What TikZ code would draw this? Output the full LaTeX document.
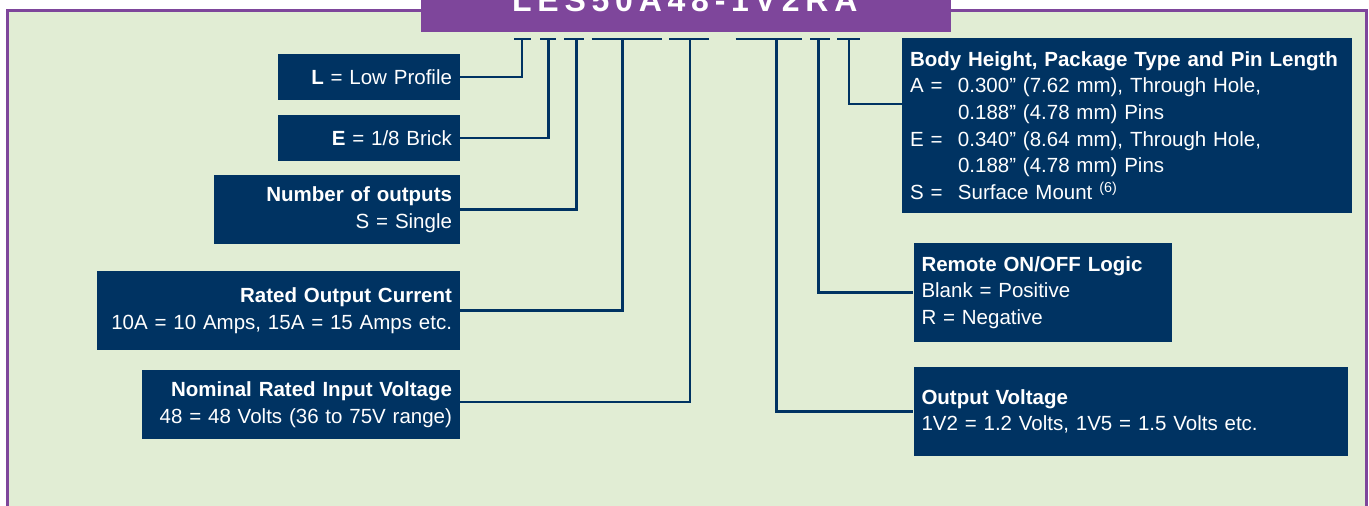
\documentclass[tikz,border=0pt]{standalone}
\usepackage{fontspec}
\setmainfont{Liberation Sans}
\definecolor{bgc}{RGB}{225,237,212}
\definecolor{purp}{RGB}{126,70,155}
\definecolor{navy}{RGB}{0,51,98}
\begin{document}
\begin{tikzpicture}[x=1pt,y=1pt,
  box/.style={fill=navy,text=white,inner xsep=8pt,inner ysep=0pt,font=\fontsize{20.5}{26.7}\selectfont},
  lbox/.style={box,align=right},
  rbox/.style={box,align=left},
  conn/.style={draw=navy,line width=2.5pt},
  bar/.style={draw=navy,line width=2.7pt},
]
\useasboundingbox (0,0) rectangle (1369,-506);
\fill[white] (0,0) rectangle (1369,-506);
\draw[purp,fill=bgc,line width=2.6pt] (7.3,-560) -- (7.3,-10.3) -- (1366.5,-10.3) -- (1366.5,-560);
% title
\node (title) [fill=purp, minimum width=530pt, minimum height=50pt, anchor=south west, inner sep=0pt] at (421,-31.7) {};
\node (titletext) [anchor=base west, text=white, inner sep=0pt,
  font=\fontsize{32}{34}\bfseries\addfontfeature{LetterSpace=18}] at (512,-11) {LES50A48-1V2RA};
% boxes left
\node (lp) [lbox, text width=166pt, minimum height=46pt] at (369,-77) {\textbf{L} = Low Profile};
\node (br) [lbox, text width=166pt, minimum height=46pt] at (369,-138) {\textbf{E} = 1/8 Brick};
\node (no) [lbox, text width=230pt, minimum height=69pt] at (337,-209.5) {\textbf{Number of outputs}\\S = Single};
\node (rc) [lbox, text width=347pt, minimum height=79pt] at (278.5,-310.5) {\textbf{Rated Output Current}\\10A = 10 Amps, 15A = 15 Amps etc.};
\node (nv) [lbox, text width=302pt, minimum height=69pt] at (301,-404.5) {\textbf{Nominal Rated Input Voltage}\\48 = 48 Volts (36 to 75V range)};
% boxes right
\node (bh) [rbox, text width=434pt, minimum height=175pt] at (1127,-125.5) {\textbf{Body Height, Package Type and Pin Length}\\
\makebox[48pt][l]{A =}0.300” (7.62 mm), Through Hole,\\
\makebox[48pt][l]{}0.188” (4.78 mm) Pins\\
\makebox[48pt][l]{E =}0.340” (8.64 mm), Through Hole,\\
\makebox[48pt][l]{}0.188” (4.78 mm) Pins\\
\makebox[48pt][l]{S =}Surface Mount \textsuperscript{(6)}};
\node (ro) [rbox, text width=242.5pt, minimum height=99pt] at (1042.75,-292.5) {\textbf{Remote ON/OFF Logic}\\Blank = Positive\\R = Negative};
\node (ov) [rbox, text width=418.2pt, minimum height=88.7pt] at (1130.6,-411.35) {\textbf{Output Voltage}\\1V2 = 1.2 Volts, 1V5 = 1.5 Volts etc.};
% bar anchors
\coordinate (v1) at (522,-39);
\coordinate (v2) at (548.3,-39);
\coordinate (v3) at (576.5,-39);
\coordinate (v4) at (622.7,-39);
\coordinate (v5) at (690,-39);
\coordinate (v6) at (776.7,-39);
\coordinate (v7) at (818.3,-39);
\coordinate (v8) at (849,-39);
% bars
\draw[bar] ([xshift=-8pt]v1) -- ([xshift=8.7pt]v1);
\draw[bar] ([xshift=-8.3pt]v2) -- ([xshift=7.7pt]v2);
\draw[bar] ([xshift=-12.5pt]v3) -- ([xshift=7.5pt]v3);
\draw[bar] ([xshift=-31pt]v4) -- ([xshift=39.3pt]v4);
\draw[bar] ([xshift=-21pt]v5) -- ([xshift=19pt]v5);
\draw[bar] ([xshift=-41pt]v6) -- ([xshift=25pt]v6);
\draw[bar] ([xshift=-8.3pt]v7) -- ([xshift=11.7pt]v7);
\draw[bar] ([xshift=-11.7pt]v8) -- ([xshift=11pt]v8);
% connectors
\draw[conn] (v1) |- (lp.east);
\draw[conn] (v2) |- (br.east);
\draw[conn] (v3) |- (no.east);
\draw[conn] (v4) |- (rc.east);
\draw[conn] (v5) |- ([yshift=2.5pt]nv.east);
\draw[conn] (v6) |- (ov.west);
\draw[conn] (v7) |- (ro.west);
\draw[conn] (v8) |- ([yshift=21.5pt]bh.west);
\end{tikzpicture}
\end{document}
